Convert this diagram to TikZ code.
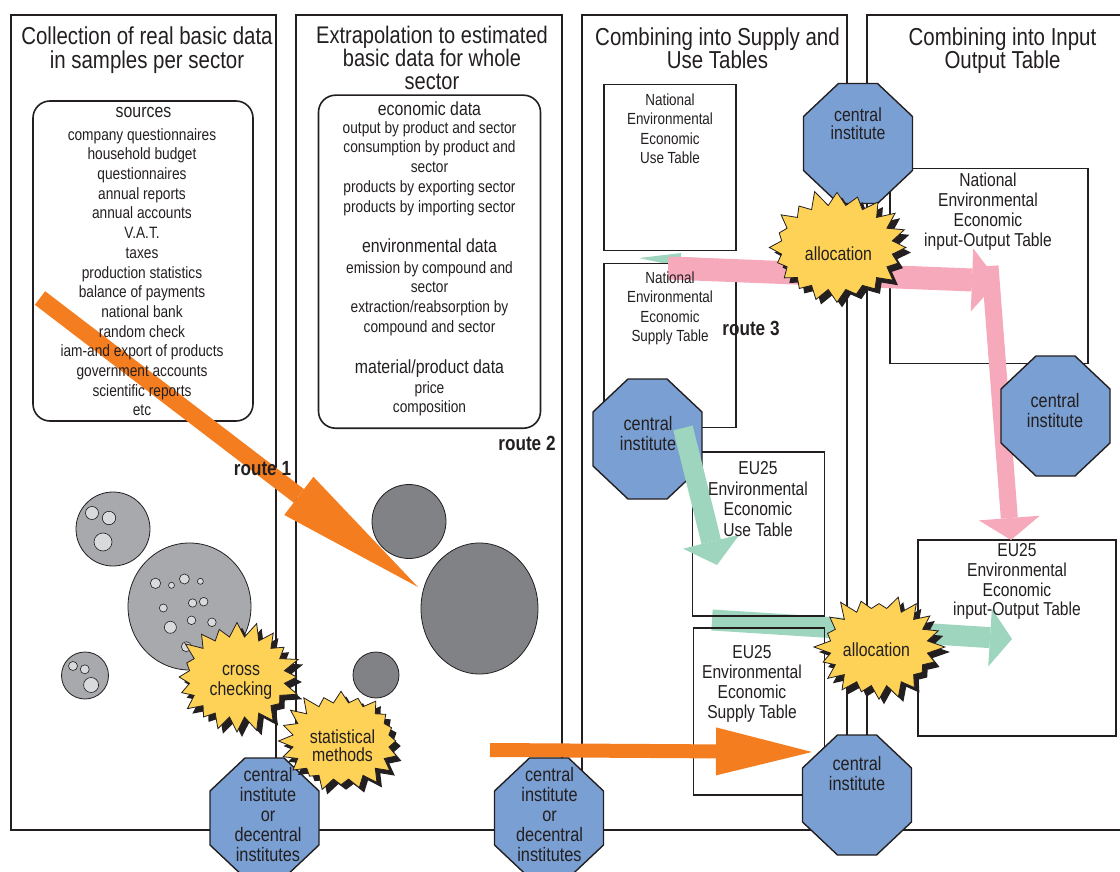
\documentclass[tikz,border=0pt]{standalone}
\usepackage{fontspec}
\setmainfont{Liberation Sans}[FakeStretch=0.835]
\usepackage{tikz}
\usetikzlibrary{arrows.meta,shapes.symbols,shadows,positioning}

\definecolor{ink}{HTML}{231F20}
\definecolor{routeorange}{HTML}{F47D20}
\definecolor{routepink}{HTML}{F5A9BB}
\definecolor{routegreen}{HTML}{9ED5BE}
\definecolor{burstyellow}{HTML}{FDD256}
\definecolor{instblue}{HTML}{7A9FD2}
\definecolor{samplegray}{HTML}{A7A9AC}
\definecolor{holegray}{HTML}{D9DADB}
\definecolor{sectorgray}{HTML}{808285}

% octagon of an institute: name, centre
\newcommand{\instoct}[2]{%
  \node[instcore] (#1) at (#2) {};
  \filldraw[instfill] ([xshift=-19.5pt]#1.north) -- ([xshift=19.5pt]#1.north)
    -- ([yshift=-33pt]#1.north east) -- ([yshift=33pt]#1.south east)
    -- ([xshift=19.5pt]#1.south) -- ([xshift=-19.5pt]#1.south)
    -- ([yshift=33pt]#1.south west) -- ([yshift=-33pt]#1.north west) -- cycle;
}

\begin{document}
\begin{tikzpicture}[
  x=1pt, y=-1pt,
  every node/.style={text=ink, align=center, inner sep=0pt, outer sep=0pt},
  panel/.style={draw=ink, line width=1.8pt},
  databox/.style={draw=ink, line width=1.6pt, rounded corners=17pt},
  tablebox/.style={draw=ink, line width=1.5pt},
  ttl/.style={anchor=north, font=\fontsize{24.5}{23.5}\selectfont},
  headtxt/.style={anchor=north, font=\fontsize{19}{20}\selectfont},
  listtxt/.style={anchor=north, font=\fontsize{16.4}{19.8}\selectfont},
  smalltab/.style={anchor=north, font=\fontsize{16.1}{19.6}\selectfont},
  bigtab/.style={anchor=north, font=\fontsize{18.7}{20}\selectfont},
  insttxt/.style={anchor=north, font=\fontsize{19.5}{20}\selectfont},
  bursttxt/.style={anchor=north, font=\fontsize{19}{20}\selectfont},
  routetxt/.style={anchor=north, font=\fontsize{20.5}{22}\selectfont\bfseries},
  instcore/.style={minimum width=109pt, minimum height=120pt},
  instfill/.style={fill=instblue, draw=ink, line width=1.4pt},
  burst/.style={starburst, starburst points=20, starburst point height=17pt,
    fill=burstyellow, draw=ink, line width=0.8pt,
    drop shadow={shadow xshift=5pt, shadow yshift=-5pt, fill=ink, opacity=1}},
  flow/.style={color=#1, line cap=butt},
  sample/.style={fill=samplegray, draw=ink, line width=0.8pt},
  hole/.style={fill=holegray, draw=ink, line width=0.6pt},
  sector/.style={fill=sectorgray, draw=ink, line width=0.8pt}
]
\useasboundingbox (0,0) rectangle (1120,872);

% flow ends
\coordinate (gb1) at (712,620);
\coordinate (gb2) at (1012,639);
\coordinate (gt1) at (722,262);
\coordinate (gt2) at (639,258);
\coordinate (pk1) at (668,268);
\coordinate (pk2) at (998,281);
\coordinate (pk3) at (990,266);
\coordinate (pk4) at (1011,540);
\coordinate (r1a) at (40,298);
\coordinate (r1b) at (418,587);
\coordinate (r2a) at (490,750);
\coordinate (r2b) at (812,752);
\coordinate (ga1) at (683,428);
\coordinate (ga2) at (717,565);

% green flow under the tables
\draw[flow=routegreen, line width=21pt, -{Triangle[length=22pt,width=58pt,line width=0pt]}] (gb1) -- (gb2);
\draw[flow=routegreen, line width=6pt, -{Triangle[length=42pt,width=14pt,line width=0pt]}] (gt1) -- (gt2);

% the four stages
\draw[panel] (11,15) rectangle (276,830);
\draw[panel] (296,15) rectangle (562,830);
\draw[panel] (582,15) rectangle (847,830);
\draw[panel] (867,15) rectangle (1130,830);

\node[databox, minimum width=220pt, minimum height=320pt] (srcbox) at (143,261) {};
\node[databox, minimum width=222pt, minimum height=333pt] (estbox) at (429.5,261.7) {};

\node[tablebox, minimum width=132pt, minimum height=166pt] (natuse) at (670,167.5) {};
\node[tablebox, minimum width=132pt, minimum height=164pt] (natsup) at (670,345.3) {};
\node[tablebox, minimum width=132pt, minimum height=164pt] (euuse) at (758.5,534.2) {};
\node[tablebox, minimum width=131pt, minimum height=167pt] (eusup) at (758.8,711.7) {};
\node[tablebox, minimum width=198pt, minimum height=195pt] (natio) at (988.8,265.8) {};
\node[tablebox, minimum width=198pt, minimum height=196pt] (euio) at (1017,637.8) {};

% routes
\draw[flow=routepink, line width=23pt, -{Triangle[length=26pt,width=63pt,line width=0pt]}] (pk1) -- (pk2);
\draw[flow=routepink, line width=17pt, -{Triangle[length=22pt,width=61pt,line width=0pt]}] (pk3) -- (pk4);
\draw[flow=routeorange, line width=17pt, -{Triangle[length=150pt,width=48pt,line width=0pt]}] (r1a) -- (r1b);
\draw[flow=routeorange, line width=14pt, -{Triangle[length=96pt,width=48pt,line width=0pt]}] (r2a) -- (r2b);

% samples per sector
\draw[sample] (113,529) circle[radius=37];
\draw[hole] (92,513) circle[radius=6.5];
\draw[hole] (109,518) circle[radius=6.7];
\draw[hole] (103,542) circle[radius=9];
\draw[sample] (189.5,606.5) ellipse[x radius=61.5, y radius=63.5];
\foreach \hx/\hy/\hr in {155.5/583.3/5.2, 171.5/585.3/3, 184.4/579/5, 200.4/581.3/3,
    163.3/608/4, 192.6/603/4.2, 203.7/601.7/4.3, 170.4/627.3/6, 191.5/620.3/4.3,
    211.9/622.3/4.3, 186.3/646.7/5}
  \draw[hole] (\hx,\hy) circle[radius=\hr];
\draw[sample] (85,675.5) circle[radius=23.5];
\draw[hole] (73,666) circle[radius=4.5];
\draw[hole] (84.8,669.3) circle[radius=4.5];
\draw[hole] (91.1,685) circle[radius=7.5];

% whole sectors
\draw[sector] (409,521.5) circle[radius=37];
\draw[sector] (479.5,608.5) ellipse[x radius=58.5, y radius=65.5];
\draw[sector] (376,675) circle[radius=23];

% institutes
\instoct{ci1}{858,143.5}
\instoct{ci2}{1055.5,416}
\instoct{ci3}{647.5,439}
\instoct{ci4}{857,795}
\instoct{cid1}{264.5,818}
\instoct{cid2}{549,818}

\draw[flow=routegreen, line width=20pt, -{Triangle[length=24pt,width=58pt,line width=0pt]}] (ga1) -- (ga2);

% bursts
\node[burst, minimum width=146pt, minimum height=119pt, random starburst=11] (alloc1) at (837,247.5) {};
\node[burst, minimum width=132pt, minimum height=112pt, random starburst=23] (alloc2) at (879,647) {};
\node[burst, minimum width=130pt, minimum height=115pt, random starburst=37] (cross) at (237,677) {};
\node[burst, minimum width=131pt, minimum height=111pt, random starburst=41] (stat) at (341,741) {};

% titles
\node[ttl] (t1) at (147,27) {Collection of real basic data\\in samples per sector};
\node[ttl, font=\fontsize{24}{22.3}\selectfont] (t2) at (432,26) {Extrapolation to estimated\\basic data for whole\\sector};
\node[ttl] (t3) at (717.5,27.5) {Combining into Supply and\\Use Tables};
\node[ttl] (t4) at (1002.5,27.5) {Combining into Input\\Output Table};

% sources
\node[headtxt] (srchead) at (143.5,106.9) {sources};
\node[listtxt, font=\fontsize{16.4}{19.7}\selectfont] (srclist) at (142,128.3) {company questionnaires\\household budget\\questionnaires\\annual reports\\annual accounts\\V.A.T.\\taxes\\production statistics\\balance of payments\\national bank\\random check\\iam-and export of products\\government accounts\\scientific reports\\etc};

% estimated data
\node[headtxt] (econhead) at (429.5,101.4) {economic data};
\node[listtxt] (econlist) at (429.5,121.3) {output by product and sector\\consumption by product and\\sector\\products by exporting sector\\products by importing sector};
\node[headtxt] (envhead) at (429.5,238.4) {environmental data};
\node[listtxt] (envlist) at (429.5,261.3) {emission by compound and\\sector\\extraction/reabsorption by\\compound and sector};
\node[headtxt] (mathead) at (429.5,359.4) {material/product data};
\node[listtxt, font=\fontsize{16.4}{19}\selectfont] (matlist) at (429.5,381.3) {price\\composition};

% tables
\node[smalltab] at (670,93.5) {National\\Environmental\\Economic\\Use Table};
\node[smalltab, font=\fontsize{16.1}{19.5}\selectfont] at (670,271.8) {National\\Environmental\\Economic\\Supply Table};
\node[bigtab, font=\fontsize{18.7}{20.5}\selectfont] at (758,461.6) {EU25\\Environmental\\Economic\\Use Table};
\node[bigtab, font=\fontsize{18.7}{19.8}\selectfont] at (752,645.6) {EU25\\Environmental\\Economic\\Supply Table};
\node[bigtab] at (988,173.3) {National\\Environmental\\Economic\\input-Output Table};
\node[bigtab, font=\fontsize{18.7}{19.7}\selectfont] at (1017,543.6) {EU25\\Environmental\\Economic\\input-Output Table};

% institutes text
\node[insttxt, font=\fontsize{19}{18}\selectfont] at (858,107.7) {central\\institute};
\node[insttxt] at (1055,393.3) {central\\institute};
\node[insttxt] at (648,416.7) {central\\institute};
\node[insttxt] at (857,756) {central\\institute};
\node[insttxt] at (268,767.7) {central\\institute\\or\\decentral\\institutes};
\node[insttxt] at (549.5,767.7) {central\\institute\\or\\decentral\\institutes};

% bursts text
\node[bursttxt] at (838.5,246.4) {allocation};
\node[bursttxt] at (876.5,642.4) {allocation};
\node[bursttxt] at (241,665) {cross\\checking};
\node[bursttxt, font=\fontsize{19}{18.5}\selectfont] at (342.5,729.7) {statistical\\methods};

% routes text
\node[routetxt] (route1) at (262.5,461.3) {route 1};
\node[routetxt] (route2) at (527,436.6) {route 2};
\node[routetxt] (route3) at (751,321.3) {route 3};
\end{tikzpicture}
\end{document}
